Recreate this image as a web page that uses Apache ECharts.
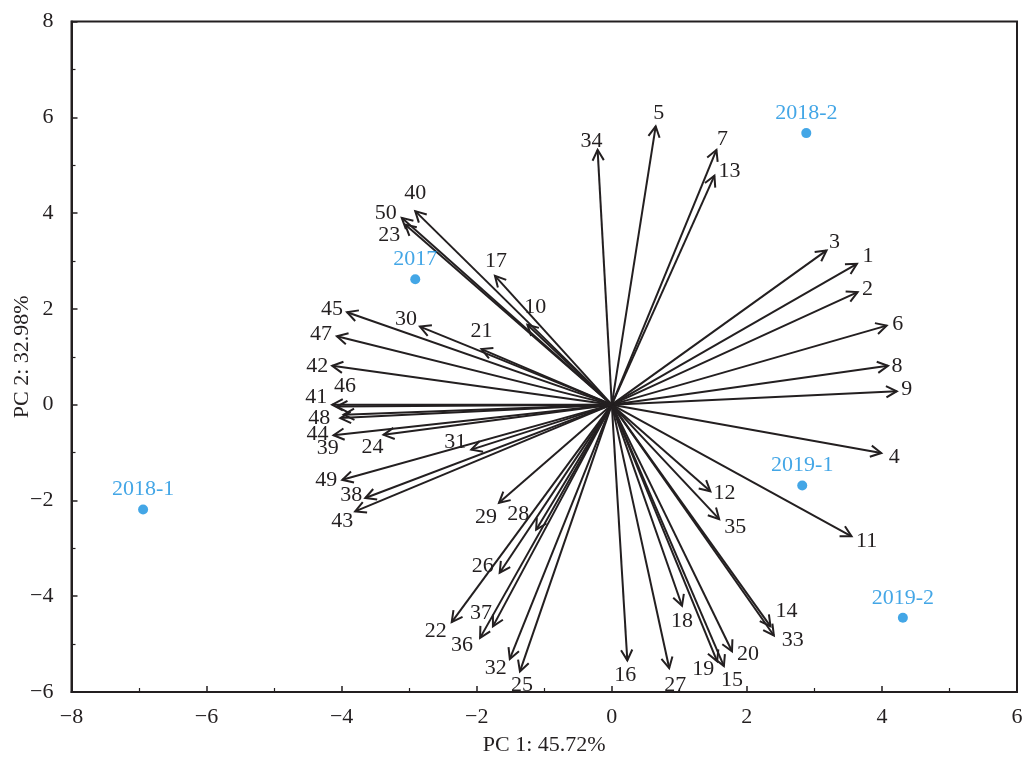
<!DOCTYPE html>
<html>
<head>
<meta charset="utf-8">
<script src="https://cdn.jsdelivr.net/npm/echarts@6/dist/echarts.min.js"></script>
<style>html,body{margin:0;padding:0;background:#fff;}#main{width:1031px;height:760px;}</style>
</head>
<body>
<div id="main"></div>
<script>
// Variable loadings (arrows)
const varNames = ['1','2','3','4','5','6','7','8','9','10','11','12','13','14','15','16','17','18','19','20','21','22','23','24','25','26','27','28','29','30','31','32','33','34','35','36','37','38','39','40','41','42','43','44','45','46','47','48','49','50'];
const varPC1 = [3.63,3.64,3.18,3.99,0.65,4.07,1.55,4.09,4.22,-1.25,3.55,1.46,1.52,2.35,1.66,0.23,-1.73,1.04,1.56,1.78,-1.93,-2.37,-3.06,-3.38,-1.36,-1.66,0.85,-1.12,-1.67,-2.84,-2.08,-1.51,2.40,-0.21,1.59,-1.95,-1.76,-3.65,-3.97,-2.91,-4.14,-4.14,-3.80,-4.12,-3.92,-4.07,-4.07,-4.02,-3.99,-3.11];
const varPC2 = [2.94,2.35,3.22,-1.01,5.81,1.65,5.32,0.81,0.28,1.67,-2.75,-1.81,4.78,-4.63,-5.46,-5.34,2.69,-4.20,-5.36,-5.15,1.16,-4.54,3.76,-0.63,-5.57,-3.51,-5.50,-2.61,-2.05,1.63,-0.94,-5.31,-4.82,5.32,-2.39,-4.87,-4.63,-1.95,-0.21,4.04,0.00,0.81,-2.23,-0.64,1.93,-0.04,1.43,-0.28,-1.57,3.90];
// Sample scores (points)
const sampleNames = ['2017','2018-1','2018-2','2019-1','2019-2'];
const samplePC1 = [-2.91,-6.94,2.88,2.82,4.31];
const samplePC2 = [2.62,-2.19,5.67,-1.69,-4.45];
// Axis ticks
const xTicks = [-8,-6,-4,-2,0,2,4,6];
const yTicks = [-6,-4,-2,0,2,4,6,8];

// Label offsets in px (style only), relative to arrow tips
const labelOffset = {
 '1':[11,-8],'2':[10,-3],'3':[8,-8],'4':[13,4],'5':[3,-13],'6':[11,-1],'7':[6,-11],'8':[9,0],'9':[10,-2],
 '10':[8,-17],'11':[15,5],'12':[14,2],'13':[15,-4],'14':[16,-15],'15':[8,14],'16':[-2,15],'17':[1,-15],
 '18':[0,15],'19':[-14,8],'20':[16,3],'21':[0,-18],'22':[-16,9],'23':[-16,11],'24':[-11,12],'25':[2,14],
 '26':[-17,-7],'27':[6,17],'28':[-18,-15],'29':[-13,14],'30':[-14,-7],'31':[-16,-7],'32':[-14,9],
 '33':[19,5],'34':[-6,-9],'35':[16,8],'36':[-18,7],'37':[-12,-13],'38':[-14,-3],'39':[-16,34],'40':[0,-18],
 '41':[-16,-7],'42':[-15,0],'43':[-13,10],'44':[-16,-1],'45':[-15,-3],'46':[8,-20],'47':[-16,-2],
 '48':[-21,0],'49':[-16,0],'50':[-16,-5]
};

const ink = '#231f20';
const blue = '#1490e0';
const serif = 'Liberation Serif';
const fs = 22;
const fmt = v => (v < 0 ? '\u2212' + Math.abs(v) : String(v));

const arrowData = varNames.map((n, i) => [varPC1[i], varPC2[i], n]);
const sampleData = sampleNames.map((n, i) => [samplePC1[i], samplePC2[i], n]);

const chart = echarts.init(document.getElementById('main'), null, {renderer: 'canvas'});
chart.setOption({
  animation: false,
  backgroundColor: '#fff',
  grid: {left: 71.5, right: 14, top: 21.5, bottom: 68, containLabel: false, outerBoundsMode: 'none',
         show: true, borderColor: ink, borderWidth: 2, backgroundColor: 'transparent'},
  xAxis: {
    type: 'value', min: xTicks[0], max: xTicks[xTicks.length-1], interval: 2,
    name: 'PC 1: 45.72%', nameLocation: 'middle', nameGap: 42, nameMoveOverlap: false,
    nameTextStyle: {fontFamily: serif, fontSize: fs, color: ink},
    axisLine: {show: true, onZero: false, lineStyle: {color: ink, width: 2}},
    axisTick: {show: true, inside: true, length: 6, lineStyle: {color: ink, width: 1.5}},
    minorTick: {show: true, splitNumber: 2, length: 4, lineStyle: {color: ink, width: 1.2}},
    axisLabel: {fontFamily: serif, fontSize: fs, color: ink, margin: 14, formatter: fmt},
    splitLine: {show: false}
  },
  yAxis: {
    type: 'value', min: yTicks[0], max: yTicks[yTicks.length-1], interval: 2,
    name: 'PC 2: 32.98%', nameLocation: 'middle', nameGap: 38, nameMoveOverlap: false,
    nameTextStyle: {fontFamily: serif, fontSize: fs, color: ink},
    axisLine: {show: true, onZero: false, lineStyle: {color: ink, width: 2}},
    axisTick: {show: true, inside: true, length: 6, lineStyle: {color: ink, width: 1.5}},
    minorTick: {show: true, splitNumber: 2, length: 4, lineStyle: {color: ink, width: 1.2}},
    axisLabel: {fontFamily: serif, fontSize: fs, color: ink, margin: 18, formatter: fmt},
    splitLine: {show: false}
  },
  series: [
    {
      type: 'custom',
      data: arrowData,
      clip: false,
      renderItem: function (params, api) {
        const o = api.coord([0, 0]);
        const t = api.coord([api.value(0), api.value(1)]);
        const dx = t[0] - o[0], dy = t[1] - o[1];
        const L = Math.hypot(dx, dy) || 1;
        const ux = dx / L, uy = dy / L;
        const a = 12, th = 28 * Math.PI / 180;
        const c = Math.cos(th), s = Math.sin(th);
        const bx = -ux, by = -uy;
        const p1 = [t[0] + a * (bx * c - by * s), t[1] + a * (bx * s + by * c)];
        const p2 = [t[0] + a * (bx * c + by * s), t[1] + a * (-bx * s + by * c)];
        const name = arrowData[params.dataIndex][2];
        const off = labelOffset[name] || [ux * 16, uy * 14];
        return {
          type: 'group',
          children: [
            {type: 'line', shape: {x1: o[0], y1: o[1], x2: t[0], y2: t[1]}, style: {stroke: ink, lineWidth: 2}},
            {type: 'polyline', shape: {points: [p1, t, p2]}, style: {stroke: ink, lineWidth: 2, fill: null}},
            {type: 'text', x: t[0] + off[0], y: t[1] + off[1],
             style: {text: name, fontFamily: serif, fontSize: fs, fill: ink, align: 'center', verticalAlign: 'middle'}}
          ]
        };
      },
      z: 2
    },
    {
      type: 'scatter',
      data: sampleData,
      symbolSize: 10,
      itemStyle: {color: blue},
      label: {show: true, position: 'top', distance: 4, formatter: p => p.data[2],
              fontFamily: serif, fontSize: fs, color: blue},
      z: 3
    }
  ]
});
</script>
</body>
</html>
